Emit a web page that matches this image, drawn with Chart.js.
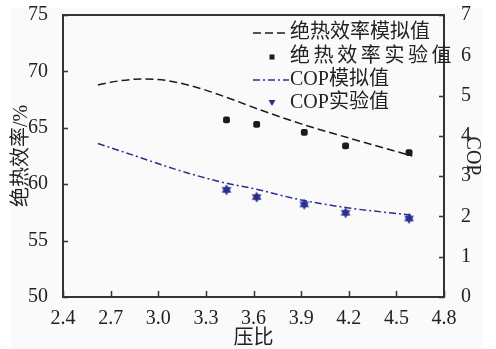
<!DOCTYPE html>
<html>
<head>
<meta charset="utf-8">
<script src="https://cdn.jsdelivr.net/npm/chart.js@4"></script>
<style>
  html, body { margin:0; padding:0; background:#fff; }
  #wrap { width:496px; height:349px; }
</style>
</head>
<body>
<div id="wrap"><canvas id="myChart" width="496" height="349"></canvas></div>
<script>
// ticks
const xTickVals = [2.4, 2.7, 3.0, 3.3, 3.6, 3.9, 4.2, 4.5, 4.8];
const yTickVals = [50, 55, 60, 65, 70, 75];
const y2TickVals = [0, 1, 2, 3, 4, 5, 6, 7];

// simulated adiabatic efficiency (%)
const effSimX = [2.62, 2.75, 2.9, 3.05, 3.25, 3.45, 3.65, 3.9, 4.2, 4.6];
const effSimY = [68.8, 69.15, 69.33, 69.2, 68.55, 67.6, 66.55, 65.35, 64.1, 62.5];

// simulated COP
const copSimX = [2.62, 2.85, 3.1, 3.4, 3.6, 3.9, 4.2, 4.6];
const copSimY = [3.81, 3.51, 3.18, 2.85, 2.69, 2.41, 2.21, 2.03];

// experiments
const expX = [3.43, 3.62, 3.92, 4.18, 4.58];
const effExp = [65.7, 65.3, 64.6, 63.4, 62.8];
const copExp = [2.66, 2.48, 2.30, 2.09, 1.95];

const labels = ['绝热效率模拟值', '绝热效率实验值', 'COP模拟值', 'COP实验值'];

const BLACK = '#1b1b1b';
const BLUE = '#2b2f90';
const AXIS = '#333333';
const FONT = "'Liberation Serif', 'Noto Sans CJK SC', serif";

function pts(xs, ys) { return xs.map((x, i) => ({x: x, y: ys[i]})); }

// six-point star for COP experiments
const star = document.createElement('canvas');
star.width = 12; star.height = 12;
(function(){
  const c = star.getContext('2d');
  c.fillStyle = BLUE;
  const r = 5.6, cx = 6, cy = 6;
  for (let k = 0; k < 2; k++) {
    c.beginPath();
    for (let i = 0; i < 3; i++) {
      const a = -Math.PI/2 + k*Math.PI + i*2*Math.PI/3;
      const px = cx + r*Math.cos(a), py = cy + r*Math.sin(a);
      if (i == 0) c.moveTo(px, py); else c.lineTo(px, py);
    }
    c.closePath();
    c.fill();
  }
})();

// background, box, inward tick marks and legend
const frame = {
  id: 'frame',
  beforeDraw(chart) {
    const ctx = chart.ctx;
    ctx.save();
    ctx.fillStyle = '#fafafa';
    ctx.fillRect(11, 8, 472, 341);
    ctx.restore();
  },
  afterDatasetsDraw(chart) {
    const ctx = chart.ctx, a = chart.chartArea;
    const sx = chart.scales.x, sy = chart.scales.y, sy2 = chart.scales.y2;
    ctx.save();
    ctx.strokeStyle = AXIS;
    ctx.lineWidth = 1.5;
    ctx.beginPath();
    xTickVals.forEach(v => {
      const p = Math.round(sx.getPixelForValue(v)) + 0.5;
      ctx.moveTo(p, a.bottom); ctx.lineTo(p, a.bottom - 6);
    });
    yTickVals.forEach(v => {
      const p = Math.round(sy.getPixelForValue(v)) + 0.5;
      ctx.moveTo(a.left, p); ctx.lineTo(a.left + 5, p);
    });
    y2TickVals.forEach(v => {
      const p = Math.round(sy2.getPixelForValue(v)) + 0.5;
      ctx.moveTo(a.right, p); ctx.lineTo(a.right - 5, p);
    });
    ctx.stroke();
    ctx.lineWidth = 2;
    ctx.strokeRect(a.left, a.top, a.right - a.left, a.bottom - a.top);

    // legend
    ctx.font = '20px ' + FONT;
    ctx.textBaseline = 'middle';
    ctx.textAlign = 'left';
    const rows = [33, 57, 80, 103];
    const tx = 290;
    ctx.lineWidth = 1.5;
    ctx.strokeStyle = BLACK;
    ctx.setLineDash([8, 4]);
    ctx.beginPath(); ctx.moveTo(253, rows[0]); ctx.lineTo(289, rows[0]); ctx.stroke();
    ctx.strokeStyle = BLUE;
    ctx.setLineDash([7, 3, 2, 3]);
    ctx.beginPath(); ctx.moveTo(253, rows[2]); ctx.lineTo(289, rows[2]); ctx.stroke();
    ctx.setLineDash([]);
    ctx.fillStyle = BLACK;
    ctx.fillRect(269.5, rows[1] - 2.5, 5, 5);
    ctx.fillStyle = BLUE;
    ctx.beginPath();
    ctx.moveTo(268.5, rows[3] - 3); ctx.lineTo(275.5, rows[3] - 3); ctx.lineTo(272, rows[3] + 3);
    ctx.closePath(); ctx.fill();
    ctx.fillStyle = '#222';
    ctx.fillText(labels[0], tx, rows[0]);
    ctx.letterSpacing = '3.6px';
    ctx.fillText(labels[1], tx, rows[1]);
    ctx.letterSpacing = '0px';
    ctx.fillText(labels[2], tx, rows[2]);
    ctx.fillText(labels[3], tx, rows[3]);
    ctx.restore();
  }
};

const ctx = document.getElementById('myChart').getContext('2d');
const chart = new Chart(ctx, {
  type: 'scatter',
  data: {
    datasets: [
      {
        label: labels[0],
        data: pts(effSimX, effSimY),
        yAxisID: 'y',
        showLine: true,
        borderColor: BLACK,
        borderWidth: 1.5,
        borderDash: [8, 4],
        pointRadius: 0,
        cubicInterpolationMode: 'monotone'
      },
      {
        label: labels[1],
        data: pts(expX, effExp),
        yAxisID: 'y',
        pointStyle: 'rectRounded',
        pointRadius: 4,
        backgroundColor: BLACK,
        borderColor: BLACK,
        borderWidth: 0
      },
      {
        label: labels[2],
        data: pts(copSimX, copSimY),
        yAxisID: 'y2',
        showLine: true,
        borderColor: BLUE,
        borderWidth: 1.5,
        borderDash: [7, 3, 2, 3],
        pointRadius: 0,
        cubicInterpolationMode: 'monotone'
      },
      {
        label: labels[3],
        data: pts(expX, copExp),
        yAxisID: 'y2',
        pointStyle: star,
        pointRadius: 6
      }
    ]
  },
  options: {
    responsive: false,
    animation: false,
    events: [],
    layout: { padding: { top: 15, left: 0, right: 0, bottom: 0 } },
    plugins: { legend: { display: false }, tooltip: { enabled: false } },
    scales: {
      x: {
        type: 'linear',
        min: 2.4, max: 4.8,
        afterBuildTicks: s => { s.ticks = xTickVals.map(v => ({value: v})); },
        afterFit: s => { s.height = 52; s.paddingLeft = 0; s.paddingRight = 0; },
        grid: { display: false },
        border: { display: false },
        ticks: {
          padding: 2,
          color: '#222',
          font: { family: FONT, size: 20 },
          maxRotation: 0,
          autoSkip: false,
          callback: v => v.toFixed(1)
        },
        title: {
          display: true, text: '压比', color: '#222',
          font: { family: FONT, size: 20, lineHeight: 1 },
          padding: { top: 0, bottom: 0 }
        }
      },
      y: {
        position: 'left',
        min: 50, max: 75,
        afterBuildTicks: s => { s.ticks = yTickVals.map(v => ({value: v})); },
        afterFit: s => { s.width = 63; s.paddingTop = 0; s.paddingBottom = 0; },
        grid: { display: false },
        border: { display: false },
        ticks: { padding: 7, color: '#222', font: { family: FONT, size: 20 } },
        title: {
          display: true, text: '绝热效率/%', color: '#222',
          font: { family: FONT, size: 20 },
          padding: { top: 10, bottom: 0 }
        }
      },
      y2: {
        position: 'right',
        min: 0, max: 7,
        afterBuildTicks: s => { s.ticks = y2TickVals.map(v => ({value: v})); },
        afterFit: s => { s.width = 52; s.paddingTop = 0; s.paddingBottom = 0; },
        grid: { display: false },
        border: { display: false },
        ticks: { padding: 9, color: '#222', font: { family: FONT, size: 20 } },
        title: {
          display: true, text: 'COP', color: '#222',
          font: { family: FONT, size: 20 },
          padding: { top: 12, bottom: 0 }
        }
      }
    }
  },
  plugins: [frame]
});
</script>
</body>
</html>
